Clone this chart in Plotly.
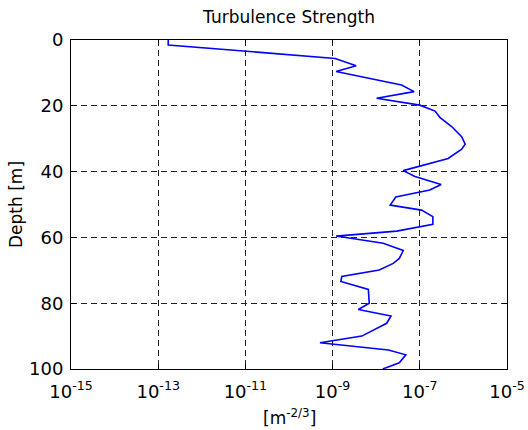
import plotly.graph_objects as go

depth = [0, 1.5, 5.6, 7.8, 9.6, 13.7, 15.7, 17.7, 19.8, 21.6, 23.5, 26.3, 29.4, 31.7, 33.2, 36.0,
         39.7, 41.5, 43.9, 45.6, 47.7, 50.2, 51.7, 53.7, 56.0, 58.1, 59.6, 61.8, 64.0, 66.4, 67.9,
         69.9, 71.9, 73.4, 75.8, 80.0, 81.9, 83.9, 86.1, 90.0, 92.0, 94.2, 95.7, 98.1, 100.0]
log_cn2 = [-12.77, -12.77, -8.94, -8.46, -8.92, -7.42, -7.13, -7.99, -7.0, -6.65, -6.54, -6.27, -6.04,
           -5.96, -6.04, -6.35, -7.38, -7.11, -6.51, -6.77, -7.55, -7.68, -6.96, -6.70, -6.70, -7.53,
           -8.92, -7.84, -7.38, -7.47, -7.61, -7.93, -8.79, -8.81, -8.18, -8.16, -8.41, -7.66, -7.76,
           -8.33, -9.29, -7.72, -7.32, -7.47, -7.85]
cn2 = [10 ** v for v in log_cn2]

x_ticks = [1e-15, 1e-13, 1e-11, 1e-9, 1e-7, 1e-5]
x_labels = ["10<sup>-15</sup>", "10<sup>-13</sup>", "10<sup>-11</sup>", "10<sup>-9</sup>",
            "10<sup>-7</sup>", "10<sup>-5</sup>"]
y_ticks = [0, 20, 40, 60, 80, 100]

font = "DejaVu Sans, Liberation Sans, sans-serif"

fig = go.Figure(go.Scatter(x=cn2, y=depth, mode="lines",
                           line=dict(color="#0000ff", width=1.6), showlegend=False))

fig.update_layout(
    width=528, height=430,
    margin=dict(l=71, r=21, t=40, b=61),
    paper_bgcolor="white", plot_bgcolor="white",
    font=dict(family=font, size=18, color="black"),
    title=dict(text="Turbulence Strength", x=0.5, xanchor="center", y=1 - 17 / 430, yanchor="middle",
               xref="paper", font=dict(size=17)),
    annotations=[dict(text="[m<sup>-2/3</sup>]", x=0.5, y=-0.145, xref="paper", yref="paper",
                      xanchor="center", yanchor="middle", showarrow=False, font=dict(size=17))],
)
fig.update_xaxes(type="log", range=[-15, -5], tickvals=x_ticks, ticktext=x_labels,
                 ticks="inside", ticklen=5, tickcolor="black", mirror="ticks",
                 showline=True, linecolor="black", linewidth=1, automargin=False,
                 showgrid=True, gridcolor="#222222", griddash="6px,4px", gridwidth=1,
                 zeroline=False, ticklabelstandoff=6)
fig.update_yaxes(range=[100, 0], tickvals=y_ticks,
                 ticks="inside", ticklen=5, tickcolor="black", mirror="ticks",
                 showline=True, linecolor="black", linewidth=1, automargin=False,
                 showgrid=True, gridcolor="#222222", griddash="6px,4px", gridwidth=1,
                 zeroline=False, ticklabelstandoff=3,
                 title=dict(text="Depth [m]", font=dict(size=17), standoff=2))

fig.write_html("out.html")
